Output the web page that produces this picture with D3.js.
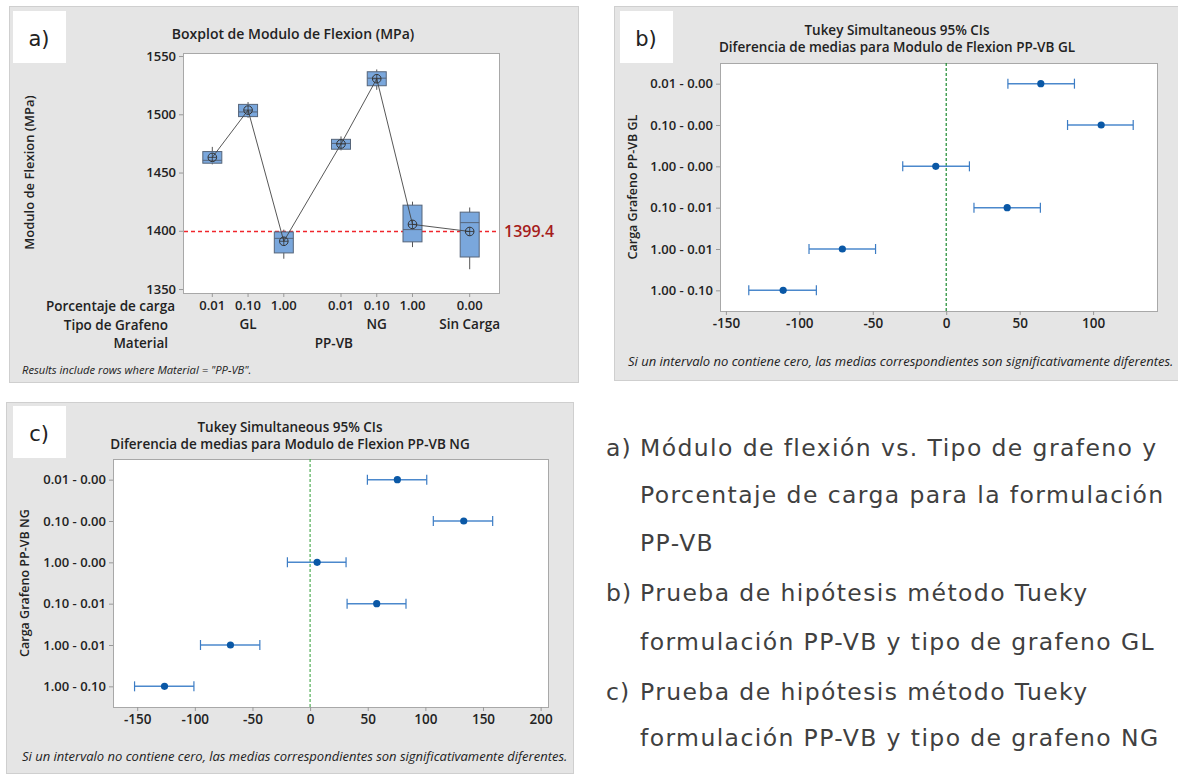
<!DOCTYPE html>
<html lang="es">
<head>
<meta charset="UTF-8">
<title>Modulo de Flexion PP-VB</title>
<script src="https://cdn.jsdelivr.net/npm/d3@7/dist/d3.min.js"></script>
<style>
  body { margin: 0; background: #fff; }
  svg text { font-family: "Open Sans", "Noto Sans", sans-serif; }
  .bold { font-weight: 600; }
</style>
</head>
<body>
<script>
// ---- data: boxplot (a) ----
var boxCarga = ["0.01", "0.10", "1.00", "0.01", "0.10", "1.00", "0.00"];
var boxTipo = ["GL", "GL", "GL", "NG", "NG", "NG", "Sin Carga"];
var boxWhiskLo = [1457, 1497, 1376, 1469, 1521, 1386, 1367];
var boxQ1 = [1458, 1498, 1381, 1470, 1524.5, 1390.5, 1377.5];
var boxMedian = [1460.5, 1502, 1393.5, 1475, 1531, 1401, 1407];
var boxQ3 = [1468, 1508.5, 1399, 1478.5, 1536.5, 1422, 1416];
var boxWhiskHi = [1472, 1510.5, 1401, 1481, 1538.5, 1425, 1420];
var boxMean = [1463, 1503.6, 1391, 1474.5, 1530.5, 1405.5, 1399.4];
var refMean = 1399.4;
var yTicksA = [1350, 1400, 1450, 1500, 1550];

// ---- data: Tukey intervals (b: GL, c: NG) ----
var tukeyLabels = ["0.01 - 0.00", "0.10 - 0.00", "1.00 - 0.00", "0.10 - 0.01", "1.00 - 0.01", "1.00 - 0.10"];
var glDiff = [64.4, 105.5, -7.1, 41.5, -70.7, -111.0];
var glLo = [42.0, 82.6, -29.6, 18.9, -93.4, -134.4];
var glHi = [87.3, 127.3, 15.8, 64.1, -48.1, -88.4];
var ngDiff = [75.7, 133.3, 6.1, 57.8, -69.1, -126.3];
var ngLo = [49.7, 106.9, -19.7, 32.1, -95.1, -152.3];
var ngHi = [101.2, 158.4, 31.2, 83.2, -43.6, -100.8];
var xTicksB = [-150, -100, -50, 0, 50, 100];
var xTicksC = [-150, -100, -50, 0, 50, 100, 150, 200];

var footTukey = "Si un intervalo no contiene cero, las medias correspondientes son significativamente diferentes.";
var captionLines = [
  ["a)", "Módulo de flexión vs. Tipo de grafeno y"],
  ["", "Porcentaje de carga para la formulación"],
  ["", "PP-VB"],
  ["b)", "Prueba de hipótesis método Tueky"],
  ["", "formulación PP-VB y tipo de grafeno GL"],
  ["c)", "Prueba de hipótesis método Tueky"],
  ["", "formulación PP-VB y tipo de grafeno NG"]
];

var W = 1178, H = 776;
var svg = d3.select("body").append("svg")
  .attr("width", W).attr("height", H);

// plain number labels with a hyphen minus, like Minitab
var plain = function(d) { return String(d); };

// gray panels + white letter boxes
function panel(x, y, w, h, letter, lx, ly) {
  svg.append("rect").attr("x", x + 0.5).attr("y", y + 0.5).attr("width", w).attr("height", h)
    .attr("fill", "#e5e5e5").attr("stroke", "#cfcfcf");
  svg.append("rect").attr("x", lx).attr("y", ly).attr("width", 53).attr("height", 52)
    .attr("fill", "#fff");
  svg.append("text").attr("x", lx + 26).attr("y", ly + 35)
    .attr("text-anchor", "middle")
    .style("font-family", "DejaVu Sans").style("font-size", "21px").attr("fill", "#222")
    .text(letter);
}
panel(9, 6, 569, 376, "a)", 13, 11);
panel(614, 6, 600, 374, "b)", 620, 11);
panel(6, 402, 567, 371, "c)", 13, 406);

// ================= (a) boxplot =================
var groups = Array.from(new Set(boxTipo));
var slot = boxTipo.map(function(t, i) { return i + 0.6 * groups.indexOf(t); });
var xA = d3.scaleLinear().domain([-0.82, 8.02]).range([183, 499]);
var yA = d3.scaleLinear().domain([1346.6, 1552.6]).range([293, 53]);

var gA = svg.append("g");
gA.append("rect").attr("x", 183.5).attr("y", 53.5).attr("width", 316).attr("height", 240)
  .attr("fill", "#fff").attr("stroke", "#a8a8a8");

gA.append("text").attr("class", "bold").attr("x", 293).attr("y", 39)
  .attr("text-anchor", "middle").style("font-size", "14px").attr("fill", "#222")
  .text("Boxplot de Modulo de Flexion (MPa)");

gA.append("text").attr("class", "bold")
  .attr("transform", "translate(34," + yA(1450) + ") rotate(-90)")
  .attr("text-anchor", "middle").style("font-size", "13px").attr("fill", "#222")
  .text("Modulo de Flexion (MPa)");

var axA = d3.axisLeft(yA).tickValues(yTicksA).tickSize(4).tickPadding(3).tickFormat(plain);
gA.append("g").attr("transform", "translate(183,0)").call(axA)
  .call(function(g) {
    g.select(".domain").remove();
    g.selectAll(".tick line").attr("stroke", "#999");
    g.selectAll("text").attr("class", "bold").style("font-size", "13px")
      .style("font-family", "'Open Sans'").attr("fill", "#222");
  });

// reference line (red, dashed), behind the boxes
gA.append("line").attr("x1", 184).attr("x2", 499)
  .attr("y1", yA(refMean)).attr("y2", yA(refMean))
  .style("stroke", "#f0262c").style("stroke-width", "1.3px").style("stroke-dasharray", "4,3");
gA.append("text").attr("class", "bold").attr("x", 504).attr("y", yA(refMean) + 6)
  .style("font-size", "16px").attr("fill", "#a51c1c").text(refMean.toFixed(1));

var bw = 19;
var boxes = gA.selectAll("g.box").data(boxMean).enter().append("g").attr("class", "box");
boxes.append("line")
  .attr("x1", function(d, i) { return xA(slot[i]); }).attr("x2", function(d, i) { return xA(slot[i]); })
  .attr("y1", function(d, i) { return yA(boxWhiskLo[i]); }).attr("y2", function(d, i) { return yA(boxWhiskHi[i]); })
  .attr("stroke", "#555");
boxes.append("rect")
  .attr("x", function(d, i) { return xA(slot[i]) - bw / 2; })
  .attr("y", function(d, i) { return yA(boxQ3[i]); })
  .attr("width", bw)
  .attr("height", function(d, i) { return yA(boxQ1[i]) - yA(boxQ3[i]); })
  .attr("fill", "#7aa7dc").attr("stroke", "#56657a").attr("stroke-width", 1);
boxes.append("line")
  .attr("x1", function(d, i) { return xA(slot[i]) - bw / 2; }).attr("x2", function(d, i) { return xA(slot[i]) + bw / 2; })
  .attr("y1", function(d, i) { return yA(boxMedian[i]); }).attr("y2", function(d, i) { return yA(boxMedian[i]); })
  .attr("stroke", "#56657a");

// mean connect line, over the boxes
gA.append("path")
  .attr("d", d3.line().x(function(d, i) { return xA(slot[i]); }).y(function(d) { return yA(d); })(boxMean))
  .attr("fill", "none").attr("stroke", "#444").attr("stroke-width", 0.9);

// mean symbol: circle with cross
var means = gA.selectAll("g.mean").data(boxMean).enter().append("g").attr("class", "mean");
means.append("circle")
  .attr("cx", function(d, i) { return xA(slot[i]); }).attr("cy", function(d) { return yA(d); })
  .attr("r", 4.3).attr("fill", "none").attr("stroke", "#333");
means.append("path")
  .attr("d", function(d, i) {
    var cx = xA(slot[i]), cy = yA(d);
    return "M" + (cx - 4.3) + "," + cy + "H" + (cx + 4.3) + "M" + cx + "," + (cy - 4.3) + "V" + (cy + 4.3);
  })
  .attr("stroke", "#333").attr("stroke-width", 0.8);

// x category rows
gA.selectAll("line.xt").data(boxCarga).enter().append("line").attr("class", "xt")
  .attr("x1", function(d, i) { return xA(slot[i]); }).attr("x2", function(d, i) { return xA(slot[i]); })
  .attr("y1", 293).attr("y2", 297).attr("stroke", "#999");
gA.selectAll("text.carga").data(boxCarga).enter().append("text").attr("class", "carga bold")
  .attr("x", function(d, i) { return xA(slot[i]); }).attr("y", 310)
  .attr("text-anchor", "middle").style("font-size", "13px").attr("fill", "#222")
  .text(function(d) { return d; });
gA.selectAll("text.tipo").data(groups).enter().append("text").attr("class", "tipo bold")
  .attr("x", function(g) {
    var s = slot.filter(function(v, i) { return boxTipo[i] === g; });
    return xA(d3.mean(s));
  })
  .attr("y", 329).attr("text-anchor", "middle").style("font-size", "13.5px").attr("fill", "#222")
  .text(function(d) { return d; });
gA.append("text").attr("class", "bold").attr("x", xA(d3.mean(slot.slice(0, 6)) + 0.6)).attr("y", 348)
  .attr("text-anchor", "middle").style("font-size", "13.5px").attr("fill", "#222").text("PP-VB");

[["Porcentaje de carga", 175, 311], ["Tipo de Grafeno", 168, 330], ["Material", 168, 348]].forEach(function(r) {
  gA.append("text").attr("class", "bold").attr("x", r[1]).attr("y", r[2])
    .attr("text-anchor", "end").style("font-size", "13.5px").attr("fill", "#222").text(r[0]);
});
gA.append("text").attr("x", 22).attr("y", 374)
  .style("font-size", "11.2px").style("font-style", "italic").attr("fill", "#222")
  .text('Results include rows where Material = "PP-VB".');

// ================= Tukey panels =================
function tukey(o) {
  var x = d3.scaleLinear().domain(o.domain).range([o.left, o.right]);
  var y = d3.scalePoint().domain(tukeyLabels).range([o.top, o.bottom]).padding(0.5);
  var g = svg.append("g");
  g.append("rect").attr("x", o.left + 0.5).attr("y", o.top + 0.5)
    .attr("width", o.right - o.left).attr("height", o.bottom - o.top)
    .attr("fill", "#fff").attr("stroke", "#a8a8a8");

  g.append("text").attr("class", "bold").attr("x", o.cx).attr("y", o.titleY)
    .attr("text-anchor", "middle").style("font-size", "13.5px").attr("fill", "#222")
    .text("Tukey Simultaneous 95% CIs");
  g.append("text").attr("class", "bold").attr("x", o.cx).attr("y", o.titleY + 16.5)
    .attr("text-anchor", "middle").style("font-size", "13.5px").attr("fill", "#222")
    .text(o.title);

  g.append("g").attr("transform", "translate(0," + o.bottom + ")")
    .call(d3.axisBottom(x).tickValues(o.ticks).tickSize(4).tickPadding(3).tickFormat(plain))
    .call(function(a) {
      a.select(".domain").remove();
      a.selectAll(".tick line").attr("stroke", "#999");
      a.selectAll("text").attr("class", "bold").style("font-size", "13.5px")
        .style("font-family", "'Open Sans'").attr("fill", "#222");
    });
  g.append("g").attr("transform", "translate(" + o.left + ",0)")
    .call(d3.axisLeft(y).tickSize(4).tickPadding(3))
    .call(function(a) {
      a.select(".domain").remove();
      a.selectAll(".tick line").attr("stroke", "#999");
      a.selectAll("text").attr("class", "bold").style("font-size", "13px")
        .style("font-family", "'Open Sans'").attr("fill", "#222");
    });

  g.append("text").attr("class", "bold")
    .attr("transform", "translate(" + o.ylabX + "," + ((o.top + o.bottom) / 2) + ") rotate(-90)")
    .attr("text-anchor", "middle").style("font-size", "12.5px").attr("fill", "#222")
    .text(o.ylab);

  g.append("line").attr("x1", x(0)).attr("x2", x(0)).attr("y1", o.top).attr("y2", o.bottom)
    .attr("stroke", o.zeroColor).attr("stroke-width", 1.2).attr("stroke-dasharray", "3,2");

  var rows = g.selectAll("g.ci").data(o.diff).enter().append("g").attr("class", "ci");
  rows.append("line")
    .attr("x1", function(d, i) { return x(o.lo[i]); }).attr("x2", function(d, i) { return x(o.hi[i]); })
    .attr("y1", function(d, i) { return y(tukeyLabels[i]); }).attr("y2", function(d, i) { return y(tukeyLabels[i]); })
    .attr("stroke", "#4b88cc").attr("stroke-width", 1.5);
  [o.lo, o.hi].forEach(function(arr) {
    rows.append("line")
      .attr("x1", function(d, i) { return x(arr[i]); }).attr("x2", function(d, i) { return x(arr[i]); })
      .attr("y1", function(d, i) { return y(tukeyLabels[i]) - 5; }).attr("y2", function(d, i) { return y(tukeyLabels[i]) + 5; })
      .attr("stroke", "#3c7cc4").attr("stroke-width", 1.2);
  });
  rows.append("circle")
    .attr("cx", function(d) { return x(d); }).attr("cy", function(d, i) { return y(tukeyLabels[i]); })
    .attr("r", 3.6).attr("fill", "#0a58a6");

  g.append("text").attr("x", o.footX).attr("y", o.footY)
    .style("font-size", "13px").style("font-style", "italic").attr("fill", "#222")
    .text(footTukey);
}

tukey({
  domain: [-154, 143.5], left: 720, right: 1157, top: 63, bottom: 311,
  ticks: xTicksB, diff: glDiff, lo: glLo, hi: glHi,
  cx: 897, titleY: 35, title: "Diferencia de medias para Modulo de Flexion PP-VB GL",
  ylab: "Carga Grafeno PP-VB GL", ylabX: 637, zeroColor: "#1a8a2e",
  footX: 628, footY: 366
});
tukey({
  domain: [-171, 206.4], left: 113, right: 548, top: 459, bottom: 707,
  ticks: xTicksC, diff: ngDiff, lo: ngLo, hi: ngHi,
  cx: 290, titleY: 432, title: "Diferencia de medias para Modulo de Flexion PP-VB NG",
  ylab: "Carga Grafeno PP-VB NG", ylabX: 29, zeroColor: "#4fae55",
  footX: 22, footY: 761
});

// ================= caption text =================
var cap = svg.append("g").attr("fill", "#404040");
captionLines.forEach(function(l, i) {
  var yy = [456, 503, 551, 601, 650, 700, 746][i];
  if (l[0]) cap.append("text").attr("x", 606).attr("y", yy)
    .style("font-family", "DejaVu Sans").style("font-size", "23.5px").style("letter-spacing", "1px").text(l[0]);
  cap.append("text").attr("x", 640).attr("y", yy)
    .style("font-family", "DejaVu Sans").style("font-size", "23.5px").style("letter-spacing", "1.4px").text(l[1]);
});
</script>
</body>
</html>
